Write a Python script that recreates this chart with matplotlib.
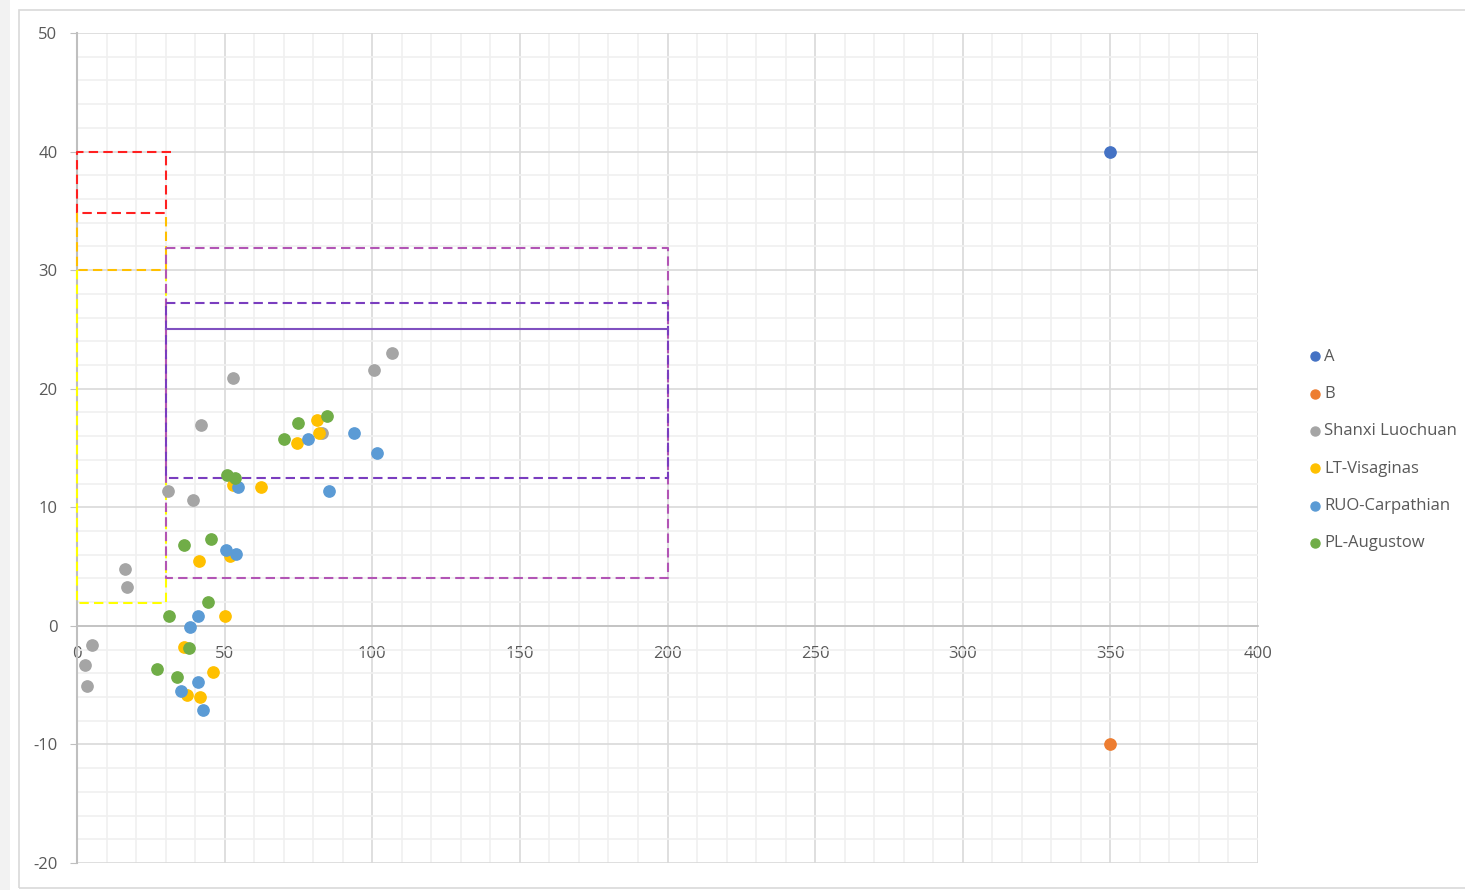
import matplotlib
matplotlib.use('Agg')
from matplotlib import pyplot as plt
from matplotlib.patches import Rectangle
from matplotlib.ticker import MultipleLocator

plt.rcParams['font.family'] = ['Open Sans', 'DejaVu Sans']
plt.rcParams['axes.unicode_minus'] = False

# reference points
a_x, a_y = [350], [40]
b_x, b_y = [350], [-10]

# sample sites
shanxi_x = [5.0, 2.7, 3.3, 16.4, 16.9, 30.9, 39.2, 42.0, 52.7, 100.5, 106.7, 82.9]
shanxi_y = [-1.6, -3.3, -5.1, 4.8, 3.3, 11.4, 10.6, 16.9, 20.9, 21.6, 23.0, 16.3]
visaginas_x = [36.3, 37.3, 41.7, 46.0, 50.0, 41.4, 51.8, 62.2, 52.8, 74.6, 81.4, 82.1]
visaginas_y = [-1.8, -5.8, -6.0, -3.9, 0.8, 5.5, 5.9, 11.7, 11.9, 15.4, 17.4, 16.3]
carpathian_x = [38.2, 41.1, 41.1, 35.3, 42.6, 50.5, 53.9, 54.4, 78.1, 85.3, 93.8, 101.5]
carpathian_y = [-0.1, 0.8, -4.7, -5.5, -7.1, 6.4, 6.1, 11.7, 15.8, 11.4, 16.3, 14.6]
augustow_x = [27.0, 33.8, 37.8, 31.1, 44.4, 36.3, 45.4, 50.9, 53.5, 70.1, 74.8, 84.8]
augustow_y = [-3.6, -4.3, -1.9, 0.8, 2.0, 6.8, 7.3, 12.7, 12.5, 15.8, 17.1, 17.7]

# classification fields (outline vertices)
red_x = [32, 0, 0, 30, 30]
red_y = [40, 40, 34.8, 34.8, 40]
orange_x = [0, 0, 30, 30]
orange_y = [34.8, 30, 30, 34.8]
yellow_x = [0, 0, 30, 30]
yellow_y = [30, 1.9, 1.9, 30]
outer_x = [30, 200, 200, 30, 30]
outer_y = [31.9, 31.9, 4, 4, 31.9]
inner_x = [30, 200, 200, 30, 30]
inner_y = [27.2, 27.2, 12.5, 12.5, 27.2]
solid_x = [30, 200]
solid_y = [25, 25]

fig = plt.figure(figsize=(14.65, 8.9), dpi=100)
fig.patches.append(Rectangle((0, 0), 10 / 1465, 1, transform=fig.transFigure,
                             facecolor='#f2f2f2', edgecolor='none', zorder=0))
fig.patches.append(Rectangle((19 / 1465, 2 / 890), 1.1, 878 / 890, transform=fig.transFigure,
                             facecolor='none', edgecolor='#d9d9d9', lw=1.2, zorder=0))

ax = fig.add_axes([77 / 1465, 1 - 863 / 890, 1181 / 1465, 830 / 890])
ax.set_xlim(0, 400)
ax.set_ylim(-20, 50)
ax.xaxis.set_major_locator(MultipleLocator(50))
ax.xaxis.set_minor_locator(MultipleLocator(10))
ax.yaxis.set_major_locator(MultipleLocator(10))
ax.yaxis.set_minor_locator(MultipleLocator(2))
ax.grid(which='major', color='#d9d9d9', lw=1.2)
ax.grid(which='minor', color='#f0f0f0', lw=1.2)
ax.set_axisbelow(True)

for s in ['top', 'right']:
    ax.spines[s].set_visible(False)
ax.spines['left'].set_color('#bfbfbf')
ax.spines['left'].set_linewidth(1.5)
ax.spines['bottom'].set_position(('data', 0))
ax.spines['bottom'].set_color('#bfbfbf')
ax.spines['bottom'].set_linewidth(1.2)

ax.tick_params(axis='y', which='major', length=5, color='#bfbfbf', pad=9,
               labelsize=12, labelcolor='#595959')
ax.tick_params(axis='x', which='major', length=0, pad=14.5,
               labelsize=12, labelcolor='#595959')
ax.tick_params(which='minor', length=0)

# field outlines
dash = (0, (4.5, 2.5))
fields = [
    (red_x, red_y, '#ff2020', dash),
    (orange_x, orange_y, '#ffc000', dash),
    (yellow_x, yellow_y, '#ffff00', dash),
    (outer_x, outer_y, '#b255b5', dash),
    (inner_x, inner_y, '#7a3dbf', dash),
    (solid_x, solid_y, '#8050c0', '-'),
]
for fx, fy, c, ls in fields:
    ax.plot(fx, fy, color=c, lw=1.5, ls=ls, zorder=3, clip_on=False)

ms = 66
ax.scatter(a_x, a_y, s=ms, color='#4472c4', label='A', zorder=4, clip_on=False)
ax.scatter(b_x, b_y, s=ms, color='#ed7d31', label='B', zorder=4, clip_on=False)
ax.scatter(shanxi_x, shanxi_y, s=ms, color='#a5a5a5', label='Shanxi Luochuan', zorder=4, clip_on=False)
ax.scatter(visaginas_x, visaginas_y, s=ms, color='#ffc000', label='LT-Visaginas', zorder=4, clip_on=False)
ax.scatter(carpathian_x, carpathian_y, s=ms, color='#5b9bd5', label='RUO-Carpathian', zorder=4, clip_on=False)
ax.scatter(augustow_x, augustow_y, s=ms, color='#70ad47', label='PL-Augustow', zorder=4, clip_on=False)

leg = fig.legend(loc='center left', bbox_to_anchor=(1302 / 1465, 1 - 450 / 890),
                 frameon=False, fontsize=12, labelcolor='#595959',
                 handlelength=0.5, handletextpad=0.35, labelspacing=1.28,
                 markerscale=0.8, borderpad=0)

fig.savefig('out.png', dpi=100)
